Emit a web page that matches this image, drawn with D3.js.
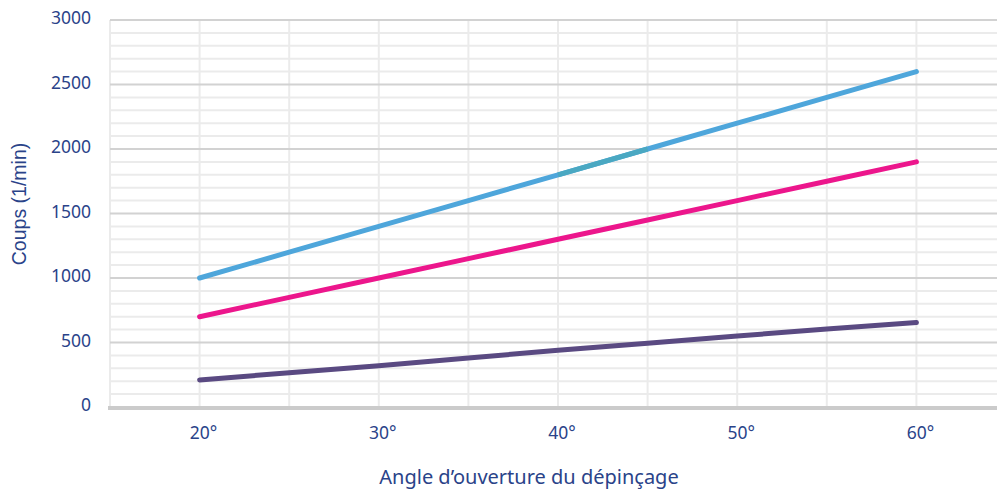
<!DOCTYPE html>
<html><head><meta charset="utf-8">
<script src="https://cdn.jsdelivr.net/npm/d3@7"></script>
<style>
body{margin:0;background:#fff;overflow:hidden}
svg{display:block}
</style></head>
<body>
<script>
const angles = [20,25,30,35,40,45,50,55,60];
const xTickLabels = ["20°","30°","40°","50°","60°"];
const xTickValues = [20,30,40,50,60];
const yTickValues = [0,500,1000,1500,2000,2500,3000];
const seriesBlue = [1000,1200,1400,1600,1800,2000,2200,2400,2600];
const seriesPink = [700,850,1000,1150,1300,1450,1600,1750,1900];
const seriesPurple = [210,265,320,380,440,495,550,605,655];

const W=997,H=489;
const svg=d3.select("body").append("svg").attr("width",W).attr("height",H);
const m={l:110,t:20,b:407};
const x=d3.scaleLinear().domain([15,65]).range([110,1006]);
const y=d3.scaleLinear().domain([0,3000]).range([407,20]);
const textColor="#2a4389";
const tickFont="'Noto Sans', 'Open Sans', sans-serif";

// vertical grid
svg.append("g").selectAll("line").data(d3.range(15,66,5)).join("line")
 .attr("x1",d=>x(d)).attr("x2",d=>x(d)).attr("y1",y(3000)).attr("y2",y(0))
 .attr("stroke","#ebebeb").attr("stroke-width",2);
// minor horizontal grid
svg.append("g").selectAll("line").data(d3.range(100,3001,100).filter(v=>v%500!==0)).join("line")
 .attr("x1",x(15)).attr("x2",W).attr("y1",d=>y(d)).attr("y2",d=>y(d))
 .attr("stroke","#ebebeb").attr("stroke-width",2);
// major horizontal grid
svg.append("g").selectAll("line").data(yTickValues.filter(v=>v>0)).join("line")
 .attr("x1",x(15)).attr("x2",W).attr("y1",d=>y(d)).attr("y2",d=>y(d))
 .attr("stroke","#d2d2d2").attr("stroke-width",2);
// x axis baseline
svg.append("line").attr("x1",x(15)-2).attr("x2",W).attr("y1",y(0)+1).attr("y2",y(0)+1)
 .attr("stroke","#cbcbcb").attr("stroke-width",4);

// y axis
const ya=svg.append("g").attr("transform",`translate(${m.l-19},0)`)
 .call(d3.axisLeft(y).tickValues(yTickValues).tickSize(0).tickPadding(0).tickFormat(d3.format("d")));
ya.select(".domain").remove();
ya.selectAll("text").attr("fill",textColor).style("font-family",tickFont).style("font-size","17.5px").attr("dy","0.22em");

// x axis
const xa=svg.append("g").attr("transform",`translate(0,${y(0)+20})`)
 .call(d3.axisBottom(x).tickValues(xTickValues).tickSize(0).tickPadding(0).tickFormat((d,i)=>xTickLabels[i]));
xa.select(".domain").remove();
xa.selectAll("text").attr("fill",textColor).style("font-family",tickFont).style("font-size","17.5px").attr("dx","0.2em");

// titles
svg.append("text").attr("x",529).attr("y",484).attr("text-anchor","middle")
 .attr("fill",textColor).style("font-family",tickFont).style("font-size","20px")
 .text("Angle d’ouverture du dépinçage");
svg.append("text").attr("transform",`translate(26,${204}) rotate(-90)`).attr("text-anchor","middle")
 .attr("fill",textColor).style("font-family","'Liberation Sans', Arial, sans-serif").style("font-size","19.5px")
 .text("Coups (1/min)");

// lines
const line=d3.line().x(d=>x(d[0])).y(d=>y(d[1]));
function draw(vals,color){
  svg.append("path").datum(angles.map((a,i)=>[a,vals[i]])).attr("d",line)
   .attr("fill","none").attr("stroke",color).attr("stroke-width",5)
   .attr("stroke-linecap","round").attr("stroke-linejoin","round");
}
draw(seriesBlue,"#4ea6db");
// highlighted segment of blue series (40°–45°)
svg.append("path").datum([[angles[4],seriesBlue[4]],[angles[5],seriesBlue[5]]]).attr("d",line)
 .attr("fill","none").attr("stroke","#4aa8c2").attr("stroke-width",5);
draw(seriesPink,"#ec168c");
draw(seriesPurple,"#5a4a82");
</script>
</body></html>
